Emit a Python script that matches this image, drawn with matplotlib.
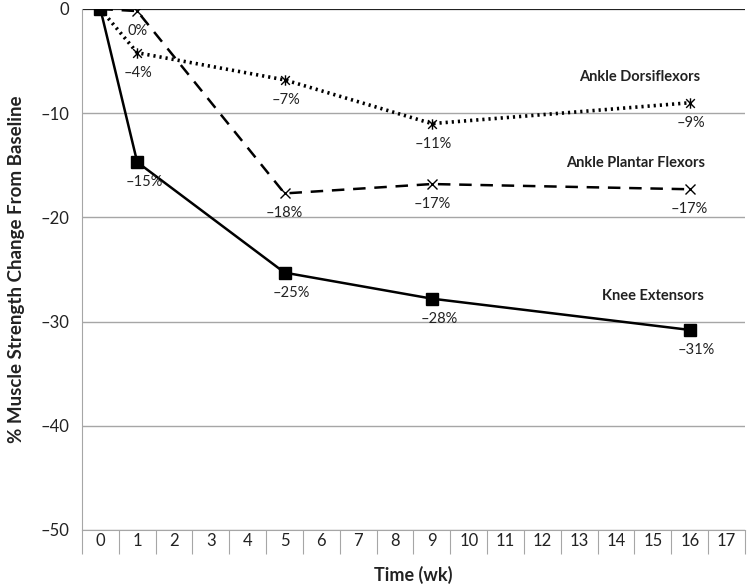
import matplotlib
matplotlib.use("Agg")
from matplotlib import pyplot as plt
from matplotlib.path import Path
import numpy as np

plt.rcParams['font.family'] = ['Lato', 'DejaVu Sans']

# data
weeks = [0, 1, 5, 9, 16]
knee = [0, -14.7, -25.3, -27.8, -30.8]
plantar = [0, -0.2, -17.7, -16.8, -17.3]
dorsi = [0, -4.2, -6.8, -11.0, -9.0]
knee_labels = ['', '\u201315%', '\u201325%', '\u201328%', '\u201331%']
plantar_labels = ['', '0%', '\u201318%', '\u201317%', '\u201317%']
dorsi_labels = ['', '\u20134%', '\u20137%', '\u201311%', '\u20139%']
x_ticks = list(range(18))
y_ticks = [0, -10, -20, -30, -40, -50]

# star marker: x with a vertical bar
star = Path([(-1, -1), (1, 1), (-1, 1), (1, -1), (0, -1.2), (0, 1.2)],
            [Path.MOVETO, Path.LINETO, Path.MOVETO, Path.LINETO, Path.MOVETO, Path.LINETO])

fig = plt.figure(figsize=(7.5, 5.84), dpi=100)
ax = fig.add_axes([0.1093, 0.0925, 0.884, 0.8921])

ax.set_xlim(-0.5, 17.5)
ax.set_ylim(-50, 0)

# grid
for yv in y_ticks[1:]:
    ax.axhline(yv, color='#a6a6a6', lw=1, zorder=1)
ax.axhline(0, color='#222222', lw=1.6, zorder=1)

ax.plot(weeks, knee, color='black', lw=1.8, marker='s', ms=8, zorder=3)
ax.plot(weeks, plantar, color='black', lw=1.8, ls=(0, (5, 3.5)),
        marker='x', ms=7.5, mew=1, zorder=3)
ax.plot(weeks, dorsi, color='black', lw=2.6, ls=(0, (0.6, 1.1)), zorder=3)
ax.plot(weeks, dorsi, ls='none', color='black', marker=star, ms=7.5, mew=1, zorder=4)

def label_points(vals, labels, dx):
    for xv, yv, t in zip(weeks, vals, labels):
        if t:
            ax.annotate(t, (xv, yv), xytext=(dx, -20), textcoords='offset pixels',
                        ha='center', va='center', fontsize=10.5, color='#222222')

label_points(knee, knee_labels, 7)
label_points(plantar, plantar_labels, 0)
label_points(dorsi, dorsi_labels, 1)

ax.text(14.65, -6.5, 'Ankle Dorsiflexors', ha='center', va='center',
        fontsize=10.5, fontweight='bold', color='#222222')
ax.text(14.54, -14.8, 'Ankle Plantar Flexors', ha='center', va='center',
        fontsize=10.5, fontweight='bold', color='#222222')
ax.text(15.0, -27.5, 'Knee Extensors', ha='center', va='center',
        fontsize=10.5, fontweight='bold', color='#222222')

# axes styling
for s in ['top', 'right']:
    ax.spines[s].set_visible(False)
ax.spines['left'].set_color('#a6a6a6')
ax.spines['bottom'].set_color('#a6a6a6')

ax.set_yticks(y_ticks)
ax.set_yticklabels([str(v).replace('-', '\u2013') for v in y_ticks], fontsize=12)
ax.tick_params(axis='y', length=0, pad=9, colors='#222222')

ax.set_xticks(np.arange(-0.5, 18, 1))
ax.set_xticklabels([])
ax.tick_params(axis='x', which='major', length=17, color='#a6a6a6', direction='out')
ax.set_xticks(x_ticks, minor=True)
ax.set_xticklabels([str(v) for v in x_ticks], minor=True, fontsize=12)
ax.tick_params(axis='x', which='minor', length=0, pad=2, labelcolor='#222222')

ax.set_xlabel('Time (wk)', fontsize=13, fontweight='bold', labelpad=5, color='#222222')
ax.set_ylabel('% Muscle Strength Change From Baseline', fontsize=13.5,
              fontweight='bold', labelpad=11, color='#222222')

fig.savefig('out.png', dpi=100)
